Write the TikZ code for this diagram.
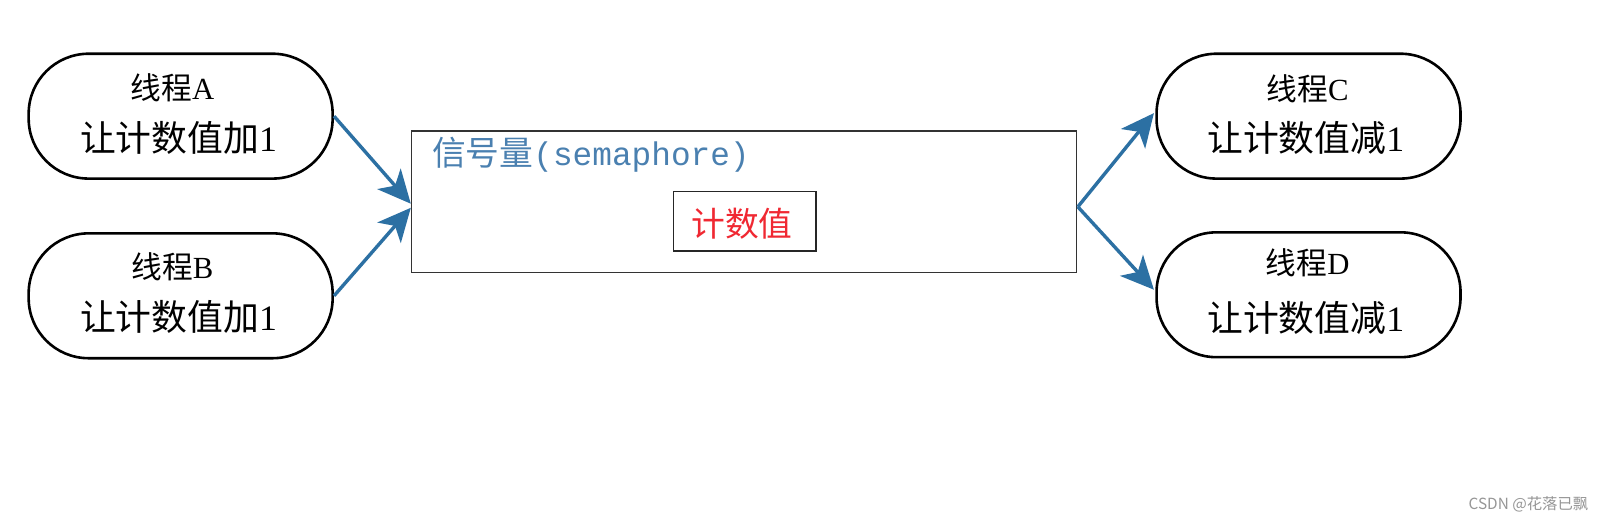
\documentclass[tikz,border=0pt]{standalone}
\usepackage{fontspec}
\setmainfont{Liberation Serif}
\newfontfamily\cjk{Noto Sans CJK SC}
\newfontfamily\monof{Liberation Mono}
\usetikzlibrary{arrows.meta,calc}
\definecolor{arrowblue}{RGB}{44,112,163}
\definecolor{semblue}{RGB}{74,128,176}
\definecolor{cntred}{RGB}{240,40,50}
\definecolor{wmgray}{RGB}{150,150,150}
\tikzset{
  thread/.style={draw=black, line width=2.6pt, minimum width=297pt, minimum height=122pt, rounded corners=60pt, inner sep=0pt},
  titletext/.style={font=\fontsize{30}{34}\selectfont, text=black, inner sep=0pt},
  acttext/.style={font=\fontsize{35}{40}\selectfont, text=black, inner sep=0pt},
  conn/.style={draw=arrowblue, line width=3.4pt, -{Stealth[length=33pt,width=31pt,inset=9pt]}},
  sembox/.style={draw=black!80, line width=1.4pt, minimum width=650pt, minimum height=138pt, inner sep=0pt},
  cntbox/.style={draw=black!85, line width=1.6pt, minimum width=139pt, minimum height=58pt, inner sep=0pt}
}
\begin{document}
\begin{tikzpicture}[x=1pt,y=-1pt,scale=1.0235,every node/.append style={transform shape}]
\fill[white] (0,0) rectangle (1567.2,511);
\useasboundingbox (0,0) rectangle (1567.2,511);

% threads
\node[thread] (A) at (176.5,113.5) {};
\node[thread] (B) at (176.5,289) {};
\node[thread] (C) at (1278.5,113.5) {};
\node[thread] (D) at (1278.5,288) {};

\node[titletext] (At) at ($(A)+(-8,-28)$) {{\cjk 线程}A};
\node[acttext] (Aa) at ($(A)+(-2,21)$) {{\cjk 让计数值加}1};
\node[titletext] (Bt) at ($(B)+(-8,-28)$) {{\cjk 线程}B};
\node[acttext] (Ba) at ($(B)+(-2,21)$) {{\cjk 让计数值加}1};
\node[titletext] (Ct) at ($(C)+(-1,-27)$) {{\cjk 线程}C};
\node[acttext] (Ca) at ($(C)+(-3,21)$) {{\cjk 让计数值减}1};
\node[titletext] (Dt) at ($(D)+(-1,-31)$) {{\cjk 线程}D};
\node[acttext] (Da) at ($(D)+(-3,23)$) {{\cjk 让计数值减}1};

% semaphore box
\node[sembox] (S) at (727,197) {};
\node[anchor=west, inner sep=0pt, text=semblue] (St) at (422,151)
  {{\cjk\fontsize{33}{38}\selectfont 信号量}{\monof\fontsize{32}{38}\selectfont (semaphore)}};
\node[cntbox] (K) at (727.5,216) {};
\node[inner sep=0pt, text=cntred, font=\cjk\fontsize{33}{38}\selectfont] (Kt) at (725,219) {计数值};

% connectors
\draw[conn] (A.east) -- ($(S.west)+(0,2)$);
\draw[conn] (B.east) -- ($(S.west)+(0,6)$);
\coordinate (Sout) at ($(S.east)+(0,5)$);
\draw[conn] (Sout) -- ($(C.west)+(-1.5,-3)$);
\draw[conn] (Sout) -- ($(D.west)+(-1.5,-5)$);

% watermark
\node[anchor=east, inner sep=0pt, text=wmgray, font=\cjk\fontsize{15}{18}\selectfont] (W) at (1552,493) {CSDN @花落已飘};
\end{tikzpicture}
\end{document}
